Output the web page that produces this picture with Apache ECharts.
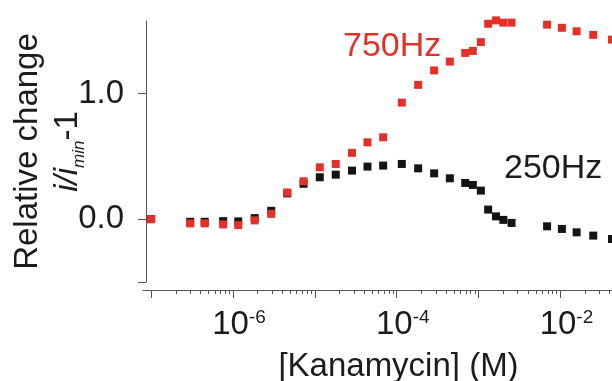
<!DOCTYPE html>
<html>
<head>
<meta charset="utf-8">
<script src="https://cdn.jsdelivr.net/npm/echarts@6/dist/echarts.min.js"></script>
<style>
  html, body { margin: 0; padding: 0; background: #fff; }
  #chart { width: 612px; height: 381px; }
</style>
</head>
<body>
<div id="chart"></div>
<script>
// log10 of kanamycin concentration (M)
const logConc = [
  -7.00, -6.523, -6.346, -6.12, -5.936, -5.735, -5.533, -5.337, -5.138, -4.94,
  -4.745, -4.546, -4.357, -4.166, -3.938, -3.738, -3.543, -3.351, -3.163, -3.07,
  -2.972, -2.883, -2.787, -2.697, -2.597, -2.163, -1.982, -1.802, -1.599, -1.37
]
// relative change i/i_min - 1
const hz750 = [
  0.00, -0.034, -0.034, -0.042, -0.048, -0.010, 0.042, 0.212, 0.301, 0.412,
  0.439, 0.527, 0.611, 0.651, 0.927, 1.068, 1.183, 1.253, 1.322, 1.338,
  1.408, 1.554, 1.581, 1.563, 1.563, 1.547, 1.522, 1.494, 1.466, 1.428
]
const hz250 = [
  0.00, -0.021, -0.021, -0.016, -0.018, 0.008, 0.066, 0.205, 0.281, 0.333,
  0.354, 0.386, 0.418, 0.426, 0.439, 0.404, 0.364, 0.325, 0.288, 0.272,
  0.227, 0.076, 0.022, -0.006, -0.030, -0.057, -0.078, -0.105, -0.131, -0.158
]

const decadeTicks = [-7, -6, -5, -4, -3, -2]
const decadeLabels = [-6, -4, -2]
const yTicks = [-0.5, 0, 1]
const yLabels = [0, 1]

const font = 'Liberation Sans, Arial, sans-serif'
const ink = '#1c1c1c'
const axisGray = '#555'
const red = '#e3312a'

// minor ticks at 2..9 x 10^n
const minorTicks = []
for (let n = -7; n <= -2; n++) {
  for (let k = 2; k <= 9; k++) {
    const v = n + Math.log10(k)
    if (v <= -1.37) minorTicks.push(v)
  }
}

const chart = echarts.init(document.getElementById('chart'))

const xMax = -1.37

chart.setOption({
  animation: false,
  textStyle: { fontFamily: font },
  grid: [
    { left: 146, right: 0, top: 21, bottom: 99, outerBoundsMode: 'none' },
    { left: 143, right: 0, top: 21, bottom: 91, outerBoundsMode: 'none' }
  ],
  xAxis: [
    { gridIndex: 0, type: 'value', min: -7.063, max: xMax, show: false },
    {
      gridIndex: 1,
      type: 'value',
      position: 'bottom',
      min: -7.1,
      max: xMax,
      axisLine: { onZero: false, lineStyle: { color: axisGray, width: 1 } },
      axisTick: { customValues: decadeTicks, length: 8, lineStyle: { color: axisGray } },
      splitLine: { show: false },
      axisLabel: {
        customValues: decadeLabels,
        margin: 18,
        padding: [0, 0, 0, 12],
        formatter: v => '{b|10}{s|' + v + '}',
        rich: {
          b: { fontSize: 33, color: ink, fontFamily: font },
          s: { fontSize: 19, color: ink, fontFamily: font, verticalAlign: 'top' }
        }
      },
      name: '[Kanamycin] (M)',
      nameLocation: 'middle',
      nameGap: 60,
      nameMoveOverlap: false,
      nameTextStyle: { fontSize: 33, color: ink, fontFamily: font, padding: [0, 0, 0, 42] }
    },
    {
      gridIndex: 1,
      type: 'value',
      position: 'bottom',
      offset: 0,
      min: -7.1,
      max: xMax,
      axisLine: { show: false, onZero: false },
      axisTick: { customValues: minorTicks, length: 4, lineStyle: { color: axisGray } },
      axisLabel: { show: false },
      splitLine: { show: false }
    }
  ],
  yAxis: [
    {
      gridIndex: 0,
      type: 'value',
      min: -0.5,
      max: 1.576,
      axisLine: { show: true, onZero: false, lineStyle: { color: axisGray, width: 1 } },
      axisTick: { show: true, customValues: yTicks, length: 8, lineStyle: { color: axisGray } },
      splitLine: { show: false },
      axisLabel: {
        customValues: yLabels,
        margin: 22,
        fontSize: 33,
        color: ink,
        formatter: v => v.toFixed(1)
      },
      name: '{a|Relative change}\n{i|i/i}{sub|min}{a|-1}',
      nameLocation: 'middle',
      nameGap: 58,
      nameMoveOverlap: false,
      nameRotate: 90,
      nameTextStyle: {
        rich: {
          a: { fontSize: 33, color: ink, fontFamily: font, lineHeight: 40 },
          i: { fontSize: 33, color: ink, fontFamily: font, fontStyle: 'italic', lineHeight: 40 },
          sub: { fontSize: 17, color: ink, fontFamily: font, fontStyle: 'italic', verticalAlign: 'bottom', lineHeight: 40 }
        }
      }
    },
    { gridIndex: 1, type: 'value', min: -0.5, max: 1.576, show: false }
  ],
  graphic: [
    { type: 'text', left: 343, top: 30, style: { text: '750Hz', fill: red, font: '34px ' + font } },
    { type: 'text', left: 504, top: 152, style: { text: '250Hz', fill: ink, font: '34px ' + font } }
  ],
  series: [
    {
      name: '250Hz',
      type: 'scatter',
      xAxisIndex: 0,
      yAxisIndex: 0,
      symbol: 'rect',
      symbolSize: 8,
      clip: false,
      itemStyle: { color: '#141414', opacity: 1 },
      data: logConc.map((x, i) => [x, hz250[i]])
    },
    {
      name: '750Hz',
      type: 'scatter',
      xAxisIndex: 0,
      yAxisIndex: 0,
      symbol: 'rect',
      symbolSize: 8,
      clip: false,
      itemStyle: { color: red, opacity: 1 },
      data: logConc.map((x, i) => [x, hz750[i]])
    }
  ]
})
</script>
</body>
</html>
